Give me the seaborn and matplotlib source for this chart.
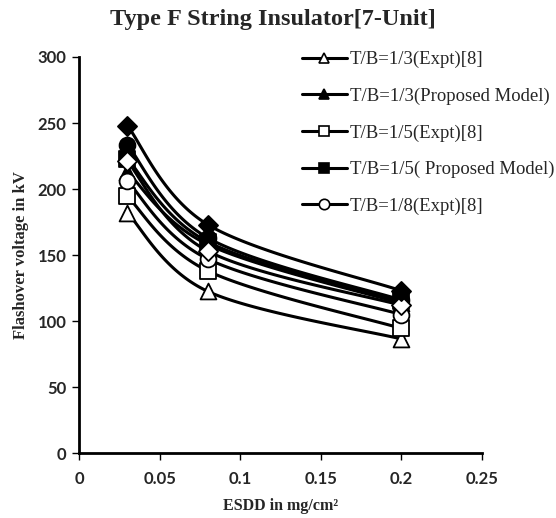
import numpy as np
import pandas as pd
import matplotlib
matplotlib.use("Agg")
import matplotlib.pyplot as plt
import seaborn as sns
from matplotlib.lines import Line2D

esdd = [0.03, 0.08, 0.2]
series_names = [
    "T/B=1/3(Expt)[8]",
    "T/B=1/3(Proposed Model)",
    "T/B=1/5(Expt)[8]",
    "T/B=1/5( Proposed Model)",
    "T/B=1/8(Expt)[8]",
    "T/B=1/8(Proposed Model)",
    "T/B=1/10(Expt)[8]",
    "T/B=1/10(Proposed Model)",
]
tb13_expt = [182, 122.5, 86.5]
tb13_model = [213, 158, 113.5]
tb15_expt = [194.5, 138, 94.5]
tb15_model = [223, 160, 115]
tb18_expt = [206, 147, 105]
tb18_model = [233.5, 163, 116]
tb110_expt = [221, 153, 112]
tb110_model = [248, 173, 123]
values = [tb13_expt, tb13_model, tb15_expt, tb15_model,
          tb18_expt, tb18_model, tb110_expt, tb110_model]
markers = ["^", "^", "s", "s", "o", "o", "D", "D"]
filled = [False, True, False, True, False, True, False, True]
xticks = [0, 0.05, 0.1, 0.15, 0.2, 0.25]
yticks = [0, 50, 100, 150, 200, 250, 300]

sns.set_theme(style="white")
plt.rcParams["font.family"] = ["Liberation Serif", "DejaVu Sans"]

fig = plt.figure(figsize=(5.56, 5.18), dpi=100)
ax = fig.add_axes([0.142, 0.125, 0.725, 0.765])
ax.set_xlim(0, 0.25)
ax.set_ylim(0, 300)

XR, YR = 0.25, 300.0


def smooth(xs, ys, n=60):
    # Excel-like Bezier smoothing, computed in normalized axes space
    px = np.asarray(xs) / XR
    py = np.asarray(ys) / YR
    pts = np.column_stack([px, py])
    out = []
    m = len(pts)
    for i in range(m - 1):
        p0 = pts[i - 1] if i > 0 else pts[i]
        p1 = pts[i]
        p2 = pts[i + 1]
        p3 = pts[i + 2] if i + 2 < m else pts[i + 1]
        c1 = p1 + (p2 - p0) / 6.0
        c2 = p2 - (p3 - p1) / 6.0
        t = np.linspace(0, 1, n)[:, None]
        seg = ((1 - t) ** 3) * p1 + 3 * ((1 - t) ** 2) * t * c1 + 3 * (1 - t) * t ** 2 * c2 + t ** 3 * p2
        out.append(seg if i == 0 else seg[1:])
    arr = np.vstack(out)
    return arr[:, 0] * XR, arr[:, 1] * YR


for name, vals, mk, fl in zip(series_names, values, markers, filled):
    sx, sy = smooth(esdd, vals)
    curve = pd.DataFrame({"x": sx, "y": sy})
    sns.lineplot(data=curve, x="x", y="y", ax=ax, color="black", lw=2.2,
                 sort=False, estimator=None, zorder=2)

for name, vals, mk, fl in zip(series_names, values, markers, filled):
    pts = pd.DataFrame({"x": esdd, "y": vals})
    ms = 95 if mk == "D" else 130
    sns.scatterplot(data=pts, x="x", y="y", ax=ax, marker=mk, s=ms,
                    facecolor="black" if fl else "white",
                    edgecolor="black", linewidth=1.3, zorder=3)

ax.set_xticks(xticks)
ax.set_xticklabels([("%g" % v) for v in xticks])
ax.set_yticks(yticks)
ax.set_yticklabels([str(v) for v in yticks])
for lab in ax.get_xticklabels() + ax.get_yticklabels():
    lab.set_fontfamily("Lato")
    lab.set_fontweight("bold")
    lab.set_fontsize(12)
ax.tick_params(axis="both", direction="out", length=5, width=1, color="black",
               bottom=True, left=True, pad=4)
ax.tick_params(axis="x", pad=8)
for s in ["top", "right"]:
    ax.spines[s].set_visible(False)
for s in ["left", "bottom"]:
    ax.spines[s].set_color("black")
    ax.spines[s].set_linewidth(2)

ax.set_xlabel("ESDD in mg/cm²", fontsize=11.5, fontweight="bold", labelpad=8)
ax.set_ylabel("Flashover voltage in kV", fontsize=12, fontweight="bold", labelpad=6)
fig.suptitle("Type F String Insulator[7-Unit]", fontsize=17.5, fontweight="bold",
             x=0.49, y=0.982)

handles = []
for name, mk, fl in list(zip(series_names, markers, filled))[:5]:
    handles.append(Line2D([0], [0], color="black", lw=2.2, marker=mk,
                          markersize=7.5, markerfacecolor="black" if fl else "white",
                          markeredgecolor="black", markeredgewidth=1.2))
leg = ax.legend(handles, series_names[:5], loc="upper left",
                bbox_to_anchor=(0.553, 1.015), frameon=False, fontsize=13.5,
                handlelength=2.4, handletextpad=0.15, labelspacing=1.03,
                borderaxespad=0, borderpad=0)

fig.savefig("out.png", dpi=100)
